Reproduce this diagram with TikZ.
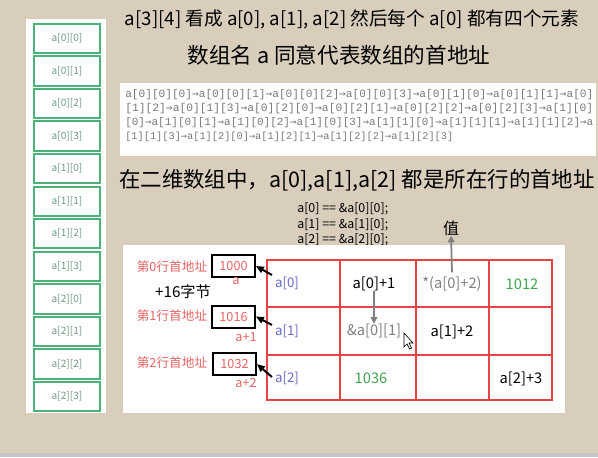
\documentclass[tikz,border=0pt]{standalone}
\usepackage{fontspec}
\setmainfont{Noto Sans CJK SC}
\newfontfamily\monof{Liberation Mono}
\newfontfamily\arrf{DejaVu Sans Mono}
\usetikzlibrary{arrows.meta}
\definecolor{bg}{HTML}{D8CEBB}
\definecolor{cellgreen}{HTML}{4DB27A}
\definecolor{celltext}{HTML}{6E9A80}
\definecolor{gridred}{HTML}{E84343}
\definecolor{lblred}{HTML}{E86464}
\definecolor{abblue}{HTML}{6A6AC8}
\definecolor{numgreen}{HTML}{3FA550}
\definecolor{codegray}{HTML}{7A7A7A}
\newcommand\ra{{\arrf →}}
\tikzset{
  cellbox/.style={draw=cellgreen,line width=1.5pt,fill=white,minimum width=49.5pt,minimum height=22pt,inner sep=0pt,font=\fontsize{7.6}{8}\selectfont,text=celltext},
  addrbox/.style={draw=black,line width=1.5pt,minimum width=32pt,minimum height=16.5pt,inner sep=0pt,font=\fontsize{9.5}{10}\selectfont,text=lblred},
  redlbl/.style={font=\fontsize{9.5}{10}\selectfont,text=lblred,inner sep=0pt},
  codeln/.style={anchor=west,inner sep=0pt,font=\monof\fontsize{8}{9}\selectfont,text=codegray},
  eqln/.style={anchor=west,inner sep=0pt,font=\fontsize{9.3}{10}\selectfont},
  hand/.style={font=\fontsize{11}{12}\selectfont,inner sep=0pt},
  blackarrow/.style={-{Triangle[length=6pt,width=5pt]},line width=1.5pt},
  grayarrow/.style={-{Triangle[length=5pt,width=5pt]},line width=1.3pt,draw=gray},
}
\begin{document}
\begin{tikzpicture}[x=0.75pt,y=-0.75pt]
\fill[bg] (0,0) rectangle (598,457);
\useasboundingbox (0,0) rectangle (598,457);
\fill[gray!45] (0,453) rectangle (598,457);
% left panel
\fill[white] (26,19) rectangle (106,413);
\foreach \r in {0,1,2}{
  \foreach \c in {0,1,2,3}{
    \pgfmathtruncatemacro{\i}{4*\r+\c}
    \node[cellbox] (c\i) at (67,{38.5+32.55*\i}) {a[\r][\c]};
  }
}
% headings
\node[inner sep=0pt,font=\fontsize{14}{15}\selectfont] (h1) at (352,19) {a[3][4] 看成 a[0], a[1], a[2] 然后每个 a[0] 都有四个元素};
\node[inner sep=0pt,font=\fontsize{16.2}{17}\selectfont] (h2) at (339,55) {数组名 a 同意代表数组的首地址};
% code box
\fill[white] (120,83) rectangle (596,156);
\node[codeln] (l1) at (125,95) {\resizebox{351pt}{!}{a[0][0][0]\ra a[0][0][1]\ra a[0][0][2]\ra a[0][0][3]\ra a[0][1][0]\ra a[0][1][1]\ra a[0]}};
\node[codeln] (l2) at (125,109) {\resizebox{351pt}{!}{[1][2]\ra a[0][1][3]\ra a[0][2][0]\ra a[0][2][1]\ra a[0][2][2]\ra a[0][2][3]\ra a[1][0]}};
\node[codeln] (l3) at (125,123) {\resizebox{351pt}{!}{[0]\ra a[1][0][1]\ra a[1][0][2]\ra a[1][0][3]\ra a[1][1][0]\ra a[1][1][1]\ra a[1][1][2]\ra a}};
\node[codeln] (l4) at (125,137) {\resizebox{246pt}{!}{[1][1][3]\ra a[1][2][0]\ra a[1][2][1]\ra a[1][2][2]\ra a[1][2][3]}};
% heading 3
\node[inner sep=0pt,font=\fontsize{16.1}{17}\selectfont] (h3) at (357,180) {在二维数组中，a[0],a[1],a[2] 都是所在行的首地址};
\node[eqln] (e1) at (297,209) {a[0] == \&a[0][0];};
\node[eqln] (e2) at (297,225) {a[1] == \&a[1][0];};
\node[eqln] (e3) at (297,240) {a[2] == \&a[2][0];};
\node[inner sep=0pt,font=\fontsize{12}{13}\selectfont] (zhi) at (451,228) {值};
% bottom panel
\fill[white] (123,245) rectangle (565,413);
\draw[gridred,line width=1.5pt] (267,260) rectangle (552,400);
\foreach \x in {340,416,489} \draw[gridred,line width=1.5pt] (\x,260) -- (\x,400);
\foreach \y in {307,355} \draw[gridred,line width=1.5pt] (267,\y) -- (552,\y);
% cell texts
\node[hand,text=abblue,font=\fontsize{10}{11}\selectfont] (t00) at (287,283) {a[0]};
\node[hand,text=abblue,font=\fontsize{10}{11}\selectfont] (t10) at (287,331) {a[1]};
\node[hand,text=abblue,font=\fontsize{10}{11}\selectfont] (t20) at (287,378) {a[2]};
\node[hand] (t01) at (374,284) {a[0]+1};
\node[hand,text=gray] (t02) at (452,284) {*(a[0]+2)};
\node[hand,text=numgreen] (t03) at (522,284) {1012};
\node[hand,text=gray] (t11) at (374,331) {\&a[0][1]};
\node[hand] (t12) at (452,332) {a[1]+2};
\node[hand,text=numgreen] (t21) at (371,378) {1036};
\node[hand] (t23) at (521,379) {a[2]+3};
\draw[grayarrow] (t02.north) ++(0,-4) coordinate (g0) (g0) -- (zhi.south);
\draw[grayarrow] (t01.south) -- (t11.north);
% left labels
\node[redlbl] (r0) at (172,267) {第0行首地址};
\node[redlbl] (r1) at (172,316) {第1行首地址};
\node[redlbl] (r2) at (172,363) {第2行首地址};
\node[addrbox] (b0) at (233.5,266) {1000};
\node[addrbox] (b1) at (233.5,316.5) {1016};
\node[addrbox] (b2) at (234.5,364) {1032};
\node[redlbl] (s0) at (236,281) {a};
\node[redlbl] (s1) at (246,337) {a+1};
\node[redlbl] (s2) at (246,383) {a+2};
\node[hand,font=\fontsize{11.4}{12}\selectfont] (plus) at (183,292) {+16字节};
\coordinate (p0) at (272,275);
\coordinate (p1) at (272,325);
\coordinate (p2) at (272,377);
\draw[blackarrow] (p0) -- (b0.east);
\draw[blackarrow] (p1) -- (b1.east);
\draw[blackarrow] (p2) -- (b2.east);
% mouse cursor
\draw[fill=white,line width=0.5pt] (404,333) -- (404,347) -- (407,344) -- (409.5,349) -- (411.5,348) -- (409,343) -- (413,343) -- cycle;
\end{tikzpicture}
\end{document}
